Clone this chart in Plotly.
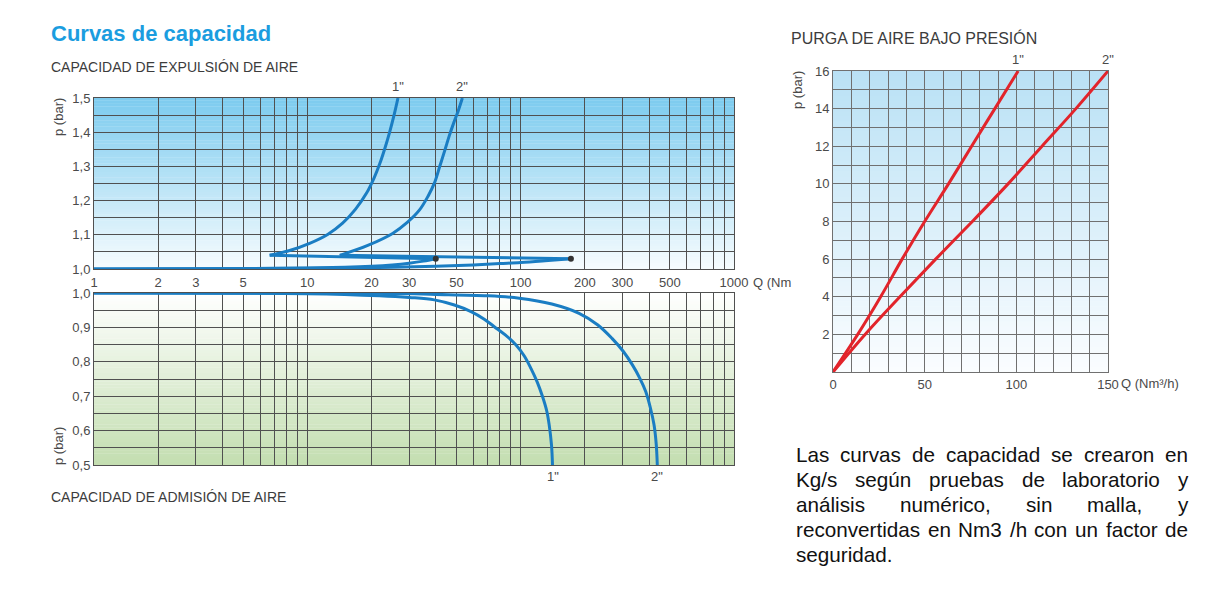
import numpy as np
import plotly.graph_objects as go

# ---------------- DATA ----------------
# Capacidad de expulsión (top, log Q)
exp1_out_q = [1, 5, 10, 15, 20, 25, 30, 35, 40]
exp1_out_p = [1.0, 1.001, 1.003, 1.005, 1.008, 1.012, 1.017, 1.023, 1.030]
exp1_ret_q = [40, 6.66]
exp1_ret_p = [1.030, 1.040]
exp1_up_q = [6.66, 8.26, 10.25, 12.45, 14.63, 16.83, 18.95, 20.54, 21.91, 23.12, 24.28, 25.48, 26.6]
exp1_up_p = [1.040, 1.054, 1.075, 1.101, 1.134, 1.175, 1.222, 1.266, 1.310, 1.354, 1.399, 1.449, 1.5]

exp2_out_q = [1, 10, 20, 40, 60, 80, 100, 130, 172]
exp2_out_p = [1.0, 1.002, 1.004, 1.008, 1.012, 1.016, 1.019, 1.024, 1.030]
exp2_ret_q = [172, 14.2]
exp2_ret_p = [1.030, 1.040]
exp2_up_q = [14.2, 19.2, 25.1, 29.5, 33.5, 36.8, 39.4, 41.8, 44.2, 46.3, 48.6, 51.0, 53.3]
exp2_up_p = [1.040, 1.069, 1.104, 1.137, 1.172, 1.213, 1.251, 1.301, 1.349, 1.390, 1.428, 1.463, 1.5]

dots_q = [40, 172]
dots_p = [1.030, 1.030]

# Capacidad de admisión (bottom, log Q)
adm1_q = [1, 10, 21.8, 30.1, 39.4, 48.9, 58.5, 67.5, 75.2, 84.7, 95.1, 104, 111.7, 119.6, 126.6,
          132.5, 136.1, 139.5, 141.0]
adm1_p = [1.0, 0.998, 0.992, 0.987, 0.980, 0.965, 0.946, 0.924, 0.902, 0.878, 0.849, 0.817, 0.781,
          0.741, 0.699, 0.657, 0.616, 0.558, 0.5]
adm2_q = [1, 20, 40, 70, 98.5, 140, 187.9, 230, 268, 303, 334, 362, 386, 406, 422, 432, 437]
adm2_p = [1.0, 0.999, 0.996, 0.992, 0.985, 0.968, 0.941, 0.907, 0.868, 0.83, 0.791, 0.752, 0.713,
          0.665, 0.616, 0.56, 0.5]

# Purga de aire bajo presión (right, linear)
purga_p = [0, 2, 4, 6, 8, 10, 12, 14, 16]
purga1_q = [0, 13.5, 26, 37.7, 50, 63, 75.6, 88.3, 101]
purga2_q = [0, 17.5, 36.5, 56, 76, 95.5, 114, 132.5, 150]

# Axis ticks / labels
log_grid = [1, 2, 3, 4, 5, 6, 7, 8, 9, 10, 20, 30, 40, 50, 60, 70, 80, 90,
            100, 200, 300, 400, 500, 600, 700, 800, 900, 1000]
log_labels = [1, 2, 3, 5, 10, 20, 30, 50, 100, 200, 300, 500, 1000]
top_y_grid = [1.0, 1.05, 1.1, 1.15, 1.2, 1.25, 1.3, 1.35, 1.4, 1.45, 1.5]
bot_y_grid = [0.5, 0.55, 0.6, 0.65, 0.7, 0.75, 0.8, 0.85, 0.9, 0.95, 1.0]
right_x_grid = list(range(0, 151, 10))
right_x_labels = [0, 50, 100, 150]
right_y_grid = list(range(0, 17))
right_y_labels = [2, 4, 6, 8, 10, 12, 14, 16]

title_main = "Curvas de capacidad"
title_exp = "CAPACIDAD DE EXPULSIÓN DE AIRE"
title_adm = "CAPACIDAD DE ADMISIÓN DE AIRE"
title_purga = "PURGA DE AIRE BAJO PRESIÓN"
size_labels = ['1"', '2"']
note_lines = ["Las curvas de capacidad se crearon en",
              "Kg/s según pruebas de laboratorio y",
              "análisis numérico, sin malla, y",
              "reconvertidas en Nm3 /h con un factor de",
              "seguridad."]

# ---------------- STYLE ----------------
W, H = 1224, 600
FONT = "Liberation Sans, Arial, Helvetica, sans-serif"
BLUE = "#1a7dc3"
RED = "#e2242b"
TICK = "#4a4a4a"
GRID_L = "#505050"
GRID_R = "#707070"


def px_x(p):
    return p / W


def px_y(p):
    return 1 - p / H


def fmt(v):
    return ("%.1f" % v).replace(".", ",")


fig = go.Figure()


def line(x, y, xa, ya, color, width=3, shape="linear"):
    fig.add_trace(go.Scatter(x=x, y=y, xaxis=xa, yaxis=ya, mode="lines",
                             line=dict(color=color, width=width, shape=shape),
                             cliponaxis=False, showlegend=False, hoverinfo="skip"))


# top
line(exp1_out_q, exp1_out_p, "x", "y", BLUE, shape="spline")
line(exp1_ret_q, exp1_ret_p, "x", "y", BLUE)
line(exp1_up_q, exp1_up_p, "x", "y", BLUE, shape="spline")
line(exp2_out_q, exp2_out_p, "x", "y", BLUE, shape="spline")
line(exp2_ret_q, exp2_ret_p, "x", "y", BLUE)
line(exp2_up_q, exp2_up_p, "x", "y", BLUE, shape="spline")
fig.add_trace(go.Scatter(x=dots_q, y=dots_p, xaxis="x", yaxis="y", mode="markers",
                         marker=dict(color="#333333", size=6), showlegend=False, hoverinfo="skip",
                         cliponaxis=False))
# bottom
line(adm1_q, adm1_p, "x2", "y2", BLUE, shape="spline")
line(adm2_q, adm2_p, "x2", "y2", BLUE, shape="spline")
# right
line(purga1_q, purga_p, "x3", "y3", RED, shape="spline")
line(purga2_q, purga_p, "x3", "y3", RED, shape="spline")

tickfont = dict(family=FONT, size=13, color=TICK)
log_text = [str(v) if v in log_labels else "" for v in log_grid]

base = dict(showgrid=True, showline=True, mirror=True, ticks="", zeroline=False,
            tickfont=tickfont, automargin=False, tickmode="array")
common_log = dict(type="log", range=[0, 3], tickvals=log_grid, gridcolor=GRID_L, gridwidth=1,
                  linecolor=GRID_L, linewidth=1, **base)
left_y = dict(gridcolor=GRID_L, linecolor=GRID_L, **base)
right_ax = dict(gridcolor=GRID_R, linecolor=GRID_R, **base)

fig.update_layout(
    width=W, height=H, margin=dict(l=0, r=0, t=0, b=0, pad=0, autoexpand=False),
    paper_bgcolor="white", plot_bgcolor="rgba(0,0,0,0)",
    font=dict(family=FONT),
    xaxis=dict(domain=[px_x(94), px_x(734)], anchor="y", ticktext=log_text,
               showticklabels=True, ticklabelstandoff=1, **common_log),
    yaxis=dict(domain=[px_y(269), px_y(98)], anchor="x", range=[1.0, 1.5],
               tickvals=top_y_grid,
               ticktext=[fmt(v) if abs(v * 10 - round(v * 10)) < 1e-6 else "" for v in top_y_grid],
               **left_y),
    xaxis2=dict(domain=[px_x(94), px_x(734)], anchor="y2", ticktext=log_text,
                showticklabels=False, **common_log),
    yaxis2=dict(domain=[px_y(465), px_y(293)], anchor="x2", range=[0.5, 1.0],
                tickvals=bot_y_grid,
                ticktext=[fmt(v) if abs(v * 10 - round(v * 10)) < 1e-6 else "" for v in bot_y_grid],
                **left_y),
    xaxis3=dict(domain=[px_x(833), px_x(1108)], anchor="y3", range=[0, 150],
                tickvals=right_x_grid,
                ticktext=[str(v) if v in right_x_labels else "" for v in right_x_grid],
                ticklabelstandoff=0, **right_ax),
    yaxis3=dict(domain=[px_y(372), px_y(71)], anchor="x3", range=[0, 16],
                tickvals=right_y_grid,
                ticktext=[str(v) if v in right_y_labels else "" for v in right_y_grid],
                **right_ax),
)


# gradient backgrounds
def hex2rgb(h):
    h = h.lstrip("#")
    return [int(h[i:i + 2], 16) for i in (0, 2, 4)]


def gradient(xr, yr, c_top, c_bot, n=60):
    a, b = np.array(hex2rgb(c_bot)), np.array(hex2rgb(c_top))
    shapes = []
    for i in range(n):
        t = (i + 0.5) / n
        c = (a + (b - a) * t).round().astype(int)
        shapes.append(dict(type="rect", xref=xr + " domain", yref=yr + " domain",
                           x0=0, x1=1, y0=i / n, y1=min(1, (i + 1) / n + 0.002),
                           fillcolor="rgb(%d,%d,%d)" % tuple(c), line=dict(width=0),
                           layer="below"))
    return shapes


shapes = []
shapes += gradient("x", "y", "#7ccbef", "#f7fcfe")
shapes += gradient("x2", "y2", "#ffffff", "#c3deb0")
shapes += gradient("x3", "y3", "#b9e1f5", "#fbfdff")
fig.update_layout(shapes=shapes)

ann = []


def text(x, y, s, size=13, color=TICK, xanchor="left", bold=False, angle=0, yanchor="middle"):
    ann.append(dict(x=px_x(x), y=px_y(y), xref="paper", yref="paper", text=("<b>%s</b>" % s) if bold else s,
                    showarrow=False, xanchor=xanchor, yanchor=yanchor, textangle=angle,
                    font=dict(family=FONT, size=size, color=color)))


text(49, 34, title_main, size=22, color="#1b9ddf", bold=True)
text(49, 67, title_exp, size=14, color="#3c3c3c")
text(49, 497, title_adm, size=14, color="#3c3c3c")
text(789, 38, title_purga, size=16, color="#3c3c3c")
text(58, 117, "p (bar)", angle=-90, xanchor="center")
text(58, 446, "p (bar)", angle=-90, xanchor="center")
text(797, 90, "p (bar)", angle=-90, xanchor="center")
text(751, 282, "Q (Nm", xanchor="left")
text(1119, 383, "Q (Nm³/h)", xanchor="left")

# curve labels
for lab, q in zip(size_labels, [exp1_up_q[-1], exp2_up_q[-1]]):
    ann.append(dict(x=np.log10(q), y=1.5, xref="x", yref="y", text=lab, showarrow=False,
                    yanchor="bottom", yshift=2, font=dict(family=FONT, size=13, color=TICK)))
for lab, q in zip(size_labels, [adm1_q[-1], adm2_q[-1]]):
    ann.append(dict(x=np.log10(q), y=0.5, xref="x2", yref="y2", text=lab, showarrow=False,
                    yanchor="top", yshift=-2, font=dict(family=FONT, size=13, color=TICK)))
for lab, q in zip(size_labels, [purga1_q[-1], purga2_q[-1]]):
    ann.append(dict(x=q, y=16, xref="x3", yref="y3", text=lab, showarrow=False,
                    yanchor="bottom", yshift=2, font=dict(family=FONT, size=13, color=TICK)))

# justified note text
AW = {'a': 556, 'b': 556, 'c': 500, 'd': 556, 'e': 556, 'f': 278, 'g': 556, 'h': 556, 'i': 222,
      'l': 222, 'm': 833, 'n': 556, 'o': 556, 'p': 556, 'r': 333, 's': 500, 't': 278, 'u': 556,
      'v': 500, 'y': 500, 'á': 556, 'é': 556, 'ú': 556, 'ñ': 556, 'K': 667, 'L': 556, 'N': 722,
      '/': 278, ',': 278, '.': 278, '3': 556, ' ': 278}
NS = 20.7
X0, X1 = 795, 1187


def tw(s):
    return sum(AW.get(ch, 556) for ch in s) / 1000 * NS


for i, ln in enumerate(note_lines):
    yc = 454 + 25.2 * i
    words = ln.split()
    if i < len(note_lines) - 1 and len(words) > 1:
        widths = [tw(w) for w in words]
        gap = (X1 - X0 - sum(widths)) / (len(words) - 1)
        x = X0
        for w, wd in zip(words, widths):
            text(x - 1, yc, w, size=NS, color="#111111")
            x += wd + gap
    else:
        text(X0 - 1, yc, ln, size=NS, color="#111111")

fig.update_layout(annotations=ann)
fig.write_html("out.html")
